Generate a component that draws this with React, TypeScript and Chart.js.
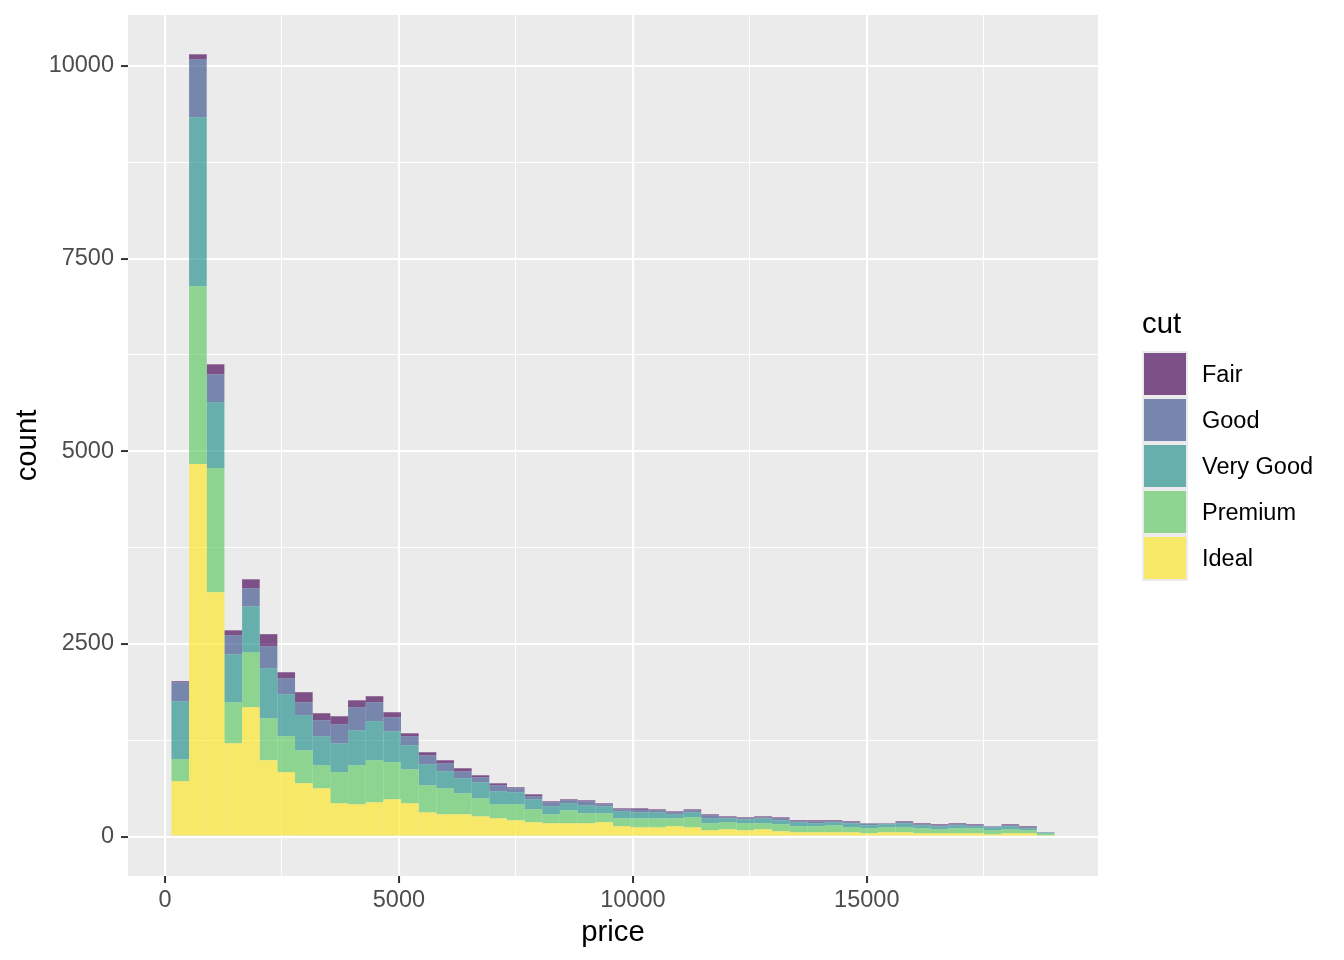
import React, { useEffect, useRef } from "react";
import { Chart, registerables } from "chart.js";

Chart.register(...registerables);

// bin centres of the price histogram (50 bins)
const binCenters = [
  326, 703, 1081, 1458, 1836, 2213, 2591, 2968, 3346, 3723,
  4101, 4478, 4856, 5233, 5611, 5988, 6366, 6743, 7121, 7498,
  7876, 8253, 8631, 9008, 9386, 9763, 10141, 10518, 10896, 11273,
  11651, 12028, 12406, 12783, 13161, 13538, 13916, 14293, 14671, 15048,
  15426, 15803, 16181, 16558, 16936, 17313, 17691, 18068, 18446, 18823,
];

// counts per bin, one array per cut
const ideal = [
  718, 4837, 3170, 1211, 1678, 991, 835, 692, 627, 432,
  419, 445, 484, 432, 315, 289, 289, 263, 237, 211,
  186, 173, 173, 173, 186, 134, 120, 120, 134, 120,
  82, 95, 82, 95, 69, 56, 56, 56, 56, 43,
  56, 56, 43, 43, 43, 43, 30, 43, 43, 17,
];
const premium = [
  286, 2306, 1613, 532, 713, 545, 467, 428, 299, 403,
  507, 546, 481, 442, 351, 338, 273, 234, 182, 208,
  168, 116, 168, 129, 116, 103, 117, 117, 103, 130,
  91, 91, 91, 78, 91, 78, 78, 91, 65, 65,
  65, 65, 65, 52, 65, 65, 52, 52, 39, 22,
];
const veryGood = [
  753, 2191, 853, 623, 597, 649, 545, 455, 376, 376,
  454, 506, 402, 311, 273, 221, 195, 208, 169, 156,
  130, 104, 91, 104, 91, 91, 78, 78, 52, 65,
  64, 51, 51, 64, 51, 52, 39, 39, 52, 39,
  39, 52, 39, 39, 39, 26, 39, 39, 26, 13,
];
const good = [
  247, 753, 363, 246, 234, 286, 208, 169, 208, 247,
  298, 247, 182, 117, 117, 104, 91, 65, 78, 52,
  39, 52, 39, 52, 26, 26, 33, 26, 26, 26,
  39, 13, 13, 13, 26, 13, 26, 13, 13, 22,
  10, 13, 13, 13, 13, 13, 9, 13, 13, 4,
];
const fair = [
  13, 65, 130, 65, 117, 156, 78, 130, 91, 104,
  91, 78, 65, 39, 39, 39, 39, 26, 26, 13,
  26, 13, 13, 13, 13, 13, 19, 13, 13, 13,
  13, 13, 13, 13, 13, 13, 13, 13, 13, 4,
  3, 13, 13, 13, 13, 13, 4, 13, 13, 1,
];

// axis breaks: labelled majors and unlabelled minors
const xTicks = [0, 2500, 5000, 7500, 10000, 12500, 15000, 17500];
const xLabels = [0, 5000, 10000, 15000];
const yTicks = [0, 1250, 2500, 3750, 5000, 6250, 7500, 8750, 10000];
const yLabels = [0, 2500, 5000, 7500, 10000];

const cuts = ["Fair", "Good", "Very Good", "Premium", "Ideal"];
const cutColors = {
  Fair: "rgba(68, 1, 84, 0.66)",
  Good: "rgba(59, 82, 139, 0.66)",
  "Very Good": "rgba(33, 144, 140, 0.66)",
  Premium: "rgba(93, 200, 99, 0.66)",
  Ideal: "rgba(253, 231, 37, 0.66)",
};

const FONT = "'Liberation Sans', Arial, Helvetica, sans-serif";
const PANEL = "#EBEBEB";

const panelBg = {
  id: "panelBg",
  beforeDraw(chart) {
    const { ctx, chartArea: a } = chart;
    ctx.save();
    ctx.fillStyle = PANEL;
    ctx.fillRect(a.left, a.top, a.right - a.left, a.bottom - a.top);
    ctx.restore();
  },
};

const inList = (c, list) => !!c.tick && list.includes(c.tick.value);

const ChartComponent = () => {
  const chartRef = useRef(null);
  const chartInstance = useRef(null);

  useEffect(() => {
    if (chartInstance.current) {
      chartInstance.current.destroy();
    }

    const series = [
      { label: "Ideal", values: ideal },
      { label: "Premium", values: premium },
      { label: "Very Good", values: veryGood },
      { label: "Good", values: good },
      { label: "Fair", values: fair },
    ];

    const datasets = series.map((s) => ({
      label: s.label,
      data: binCenters.map((x, i) => ({ x, y: s.values[i] })),
      backgroundColor: cutColors[s.label],
      borderWidth: 0,
      barPercentage: 1,
      categoryPercentage: 1,
      inflateAmount: 0,
    }));

    const ctx = chartRef.current.getContext("2d");
    chartInstance.current = new Chart(ctx, {
      type: "bar",
      data: { datasets },
      options: {
        animation: false,
        responsive: true,
        maintainAspectRatio: false,
        layout: { padding: { top: 15, right: 246, bottom: 0, left: 0 } },
        scales: {
          x: {
            type: "linear",
            min: -791,
            max: 19942,
            offset: false,
            stacked: true,
            afterBuildTicks: (s) => {
              s.ticks = xTicks.map((value) => ({ value }));
            },
            afterFit: (s) => {
              s.height = 84;
              s.paddingLeft = 0;
              s.paddingRight = 0;
            },
            border: { display: false },
            grid: {
              offset: false,
              color: "#FFFFFF",
              lineWidth: (c) => (inList(c, xLabels) ? 2.1 : 1.05),
              tickColor: (c) => (inList(c, xLabels) ? "#333333" : "rgba(0,0,0,0)"),
              tickWidth: 2,
              tickLength: 7,
            },
            ticks: {
              autoSkip: false,
              maxRotation: 0,
              padding: 3,
              color: "#4D4D4D",
              font: { family: FONT, size: 23.5 },
              callback: (v) => (xLabels.includes(v) ? String(v) : ""),
            },
            title: {
              display: true,
              text: "price",
              color: "#000000",
              font: { family: FONT, size: 29.3 },
              padding: { top: 0, bottom: 10 },
            },
          },
          y: {
            type: "linear",
            min: -511,
            max: 10662,
            stacked: true,
            afterBuildTicks: (s) => {
              s.ticks = yTicks.map((value) => ({ value }));
            },
            afterFit: (s) => {
              s.width = 128;
              s.paddingTop = 0;
              s.paddingBottom = 0;
            },
            border: { display: false },
            grid: {
              color: "#FFFFFF",
              lineWidth: (c) => (inList(c, yLabels) ? 2.1 : 1.05),
              tickColor: (c) => (inList(c, yLabels) ? "#333333" : "rgba(0,0,0,0)"),
              tickWidth: 2,
              tickLength: 7,
            },
            ticks: {
              autoSkip: false,
              padding: 7,
              color: "#4D4D4D",
              font: { family: FONT, size: 23.5 },
              callback: (v) => (yLabels.includes(v) ? String(v) : ""),
            },
            title: {
              display: true,
              text: "count",
              color: "#000000",
              font: { family: FONT, size: 29.3 },
              padding: { top: 10, bottom: 0 },
            },
          },
        },
        plugins: {
          legend: { display: false },
          tooltip: { enabled: false },
        },
      },
      plugins: [panelBg],
    });

    return () => {
      if (chartInstance.current) {
        chartInstance.current.destroy();
        chartInstance.current = null;
      }
    };
  }, []);

  return <canvas ref={chartRef} />;
};

const Legend = () => (
  <>
    <div
      style={{
        position: "absolute",
        left: 1142,
        top: 308,
        fontFamily: FONT,
        fontSize: 29.3,
        lineHeight: "29px",
        color: "#000",
      }}
    >
      cut
    </div>
    {cuts.map((c, i) => (
      <React.Fragment key={c}>
        <div
          style={{
            position: "absolute",
            left: 1142,
            top: 351 + 46 * i,
            width: 46,
            height: 46,
            background: PANEL,
          }}
        >
          <div
            style={{
              position: "absolute",
              left: 2,
              top: 2,
              width: 42,
              height: 42,
              background: cutColors[c],
            }}
          />
        </div>
        <div
          style={{
            position: "absolute",
            left: 1202,
            top: 351 + 46 * i,
            height: 46,
            lineHeight: "46px",
            fontFamily: FONT,
            fontSize: 23.5,
            color: "#000",
            whiteSpace: "nowrap",
          }}
        >
          {c}
        </div>
      </React.Fragment>
    ))}
  </>
);

export default function App() {
  return (
    <div
      style={{
        position: "absolute",
        left: 0,
        top: 0,
        width: 1344,
        height: 960,
        background: "#FFFFFF",
        overflow: "hidden",
      }}
    >
      <div style={{ position: "absolute", left: 0, top: 0, width: 1344, height: 960 }}>
        <ChartComponent />
      </div>
      <Legend />
    </div>
  );
}
